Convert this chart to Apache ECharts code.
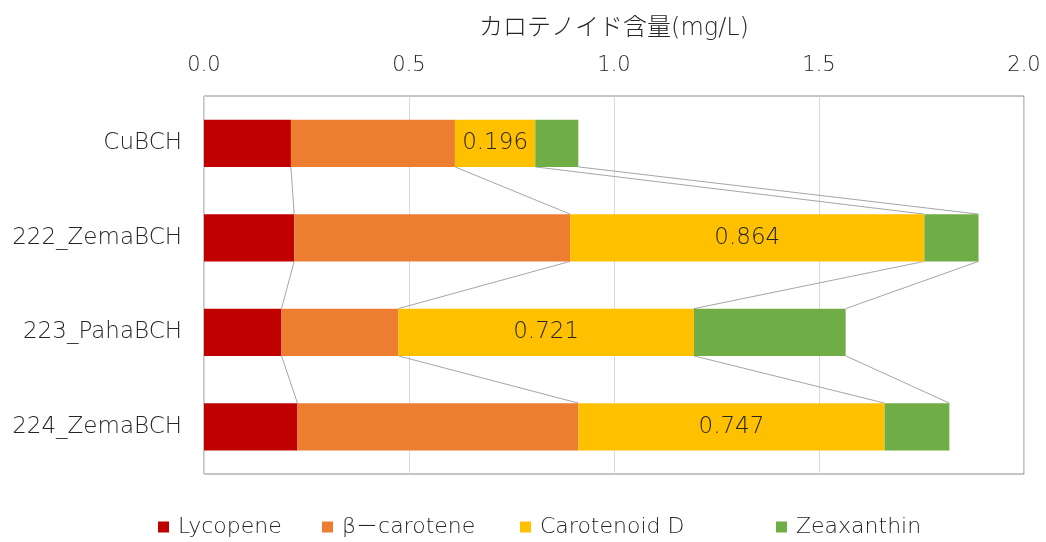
<!DOCTYPE html>
<html>
<head>
<meta charset="utf-8">
<script src="https://cdn.jsdelivr.net/npm/echarts@6/dist/echarts.min.js"></script>
<style>html,body{margin:0;padding:0;background:#fff}#c{width:1046px;height:542px}</style>
</head>
<body>
<div id="c"></div>
<script>
const categories = ['CuBCH', '222_ZemaBCH', '223_PahaBCH', '224_ZemaBCH'];
const seriesNames = ['Lycopene', 'β－carotene', 'Carotenoid D', 'Zeaxanthin'];
const lycopene = [0.212, 0.220, 0.189, 0.228];
const betaCarotene = [0.400, 0.673, 0.285, 0.685];
const carotenoidD = [0.196, 0.864, 0.721, 0.747];
const zeaxanthin = [0.105, 0.132, 0.370, 0.158];
const xTicks = [0, 0.5, 1.0, 1.5, 2.0];
const axisTitle = 'カロテノイド含量(mg/L)';

const colors = ['#C00000', '#ED7D31', '#FFC000', '#70AD47'];
const FONT = '"DejaVu Sans", "Noto Sans CJK JP", sans-serif';
const TXT = '#262626';
const valuesList = [lycopene, betaCarotene, carotenoidD, zeaxanthin];
const BAR_RATIO = 0.5;

// cumulative ends for series lines
const cum = valuesList.map((_, k) => categories.map((c, i) => {
  let s = 0; for (let j = 0; j <= k; j++) s += valuesList[j][i]; return s;
}));

const chart = echarts.init(document.getElementById('c'), null, {renderer: 'canvas'});

const barSeries = valuesList.map((vals, k) => ({
  name: seriesNames[k],
  type: 'bar',
  stack: 'total',
  barWidth: (BAR_RATIO * 100) + '%',
  itemStyle: {color: colors[k]},
  data: vals,
  z: 3,
  label: k === 2 ? {
    show: true, position: 'inside', fontFamily: FONT, fontWeight: 300, fontSize: 23, color: TXT,
    formatter: p => p.value.toFixed(3)
  } : {show: false}
}));

const lineSeries = {
  type: 'custom',
  name: 'serieslines',
  silent: true,
  z: 2,
  encode: {x: 0, y: 1},
  data: categories.slice(0, -1).map((c, i) => [0, i]),
  renderItem: function (params, api) {
    const i = api.value(1);
    const band = api.size([0, 1])[1];
    const h = band * BAR_RATIO / 2;
    const children = [];
    for (let k = 0; k < cum.length; k++) {
      const p1 = api.coord([cum[k][i], i]);
      const p2 = api.coord([cum[k][i + 1], i + 1]);
      children.push({
        type: 'line',
        shape: {x1: p1[0], y1: p1[1] + h, x2: p2[0], y2: p2[1] - h},
        style: {stroke: '#A6A6A6', lineWidth: 1}
      });
    }
    return {type: 'group', children: children};
  }
};

const legendPos = [158, 322, 520, 776];
const legends = seriesNames.map((n, k) => ({
  data: [n],
  left: legendPos[k],
  top: 516,
  padding: 0,
  icon: 'rect',
  itemWidth: 11,
  itemHeight: 11,
  textStyle: {fontFamily: FONT, fontWeight: 300, fontSize: 22, color: TXT, padding: [0, 0, 0, 4]}
}));

chart.setOption({
  animation: false,
  backgroundColor: '#fff',
  textStyle: {fontFamily: FONT},
  grid: {left: 204, right: 22, top: 96, bottom: 68, show: true, borderColor: '#898989', borderWidth: 1, containLabel: false},
  legend: legends,
  xAxis: {
    type: 'value',
    position: 'top',
    min: xTicks[0],
    max: xTicks[xTicks.length - 1],
    interval: 0.5,
    name: axisTitle,
    nameLocation: 'middle',
    nameGap: 55,
    nameTextStyle: {fontFamily: FONT, fontWeight: 300, fontSize: 24, color: TXT},
    axisLine: {show: false},
    axisTick: {show: false},
    splitLine: {show: true, lineStyle: {color: '#D9D9D9', width: 1}},
    axisLabel: {fontFamily: FONT, fontWeight: 300, fontSize: 21, color: TXT, margin: 20, formatter: v => v.toFixed(1)}
  },
  yAxis: {
    type: 'category',
    inverse: true,
    data: categories,
    axisLine: {show: false},
    axisTick: {show: false},
    axisLabel: {fontFamily: FONT, fontWeight: 300, fontSize: 23, color: TXT, margin: 22}
  },
  series: barSeries.concat([lineSeries])
});
</script>
</body>
</html>
